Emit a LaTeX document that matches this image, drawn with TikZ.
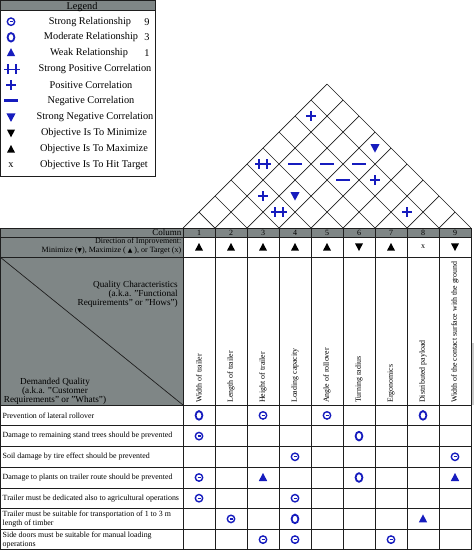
\documentclass[tikz,border=0pt]{standalone}
\usepackage{fontspec}
\setmainfont{Liberation Serif}
\newfontfamily\symfont{DejaVu Sans}
\usetikzlibrary{calc}
\definecolor{hdrgray}{RGB}{127,134,134}
\definecolor{symblue}{RGB}{22,28,190}
\definecolor{gridc}{RGB}{30,30,30}
\definecolor{edgegray}{RGB}{205,205,205}
\tikzset{
  gridline/.style={draw=gridc, line width=0.7pt},
  lgtext/.style={font=\fontsize{10.3}{11}\selectfont, inner sep=0pt},
  rowtext/.style={font=\fontsize{7.9}{9}\selectfont, inner sep=0pt, anchor=west, align=left},
  coltext/.style={font=\fontsize{7.9}{9}\selectfont, inner sep=0pt, anchor=west, rotate=90},
  numtext/.style={font=\fontsize{8}{9}\selectfont, inner sep=0pt},
  qstrong/.pic={\draw[symblue,line width=1.4pt] (0,0) circle[radius=3.7pt];
                \draw[symblue,line width=1.3pt] (-1.5,0)--(1.5,0);},
  qmod/.pic={\draw[symblue,line width=1.8pt] (0,0) ellipse[x radius=3.4pt,y radius=4.3pt];},
  qweak/.pic={\fill[symblue] (0,-4.5)--(4.2,3.5)--(-4.2,3.5)--cycle;},
  cstrongpos/.pic={\draw[symblue,line width=1.6pt] (-8,0)--(8,0) (-4,-5)--(-4,5) (4,-5)--(4,5);},
  cposit/.pic={\draw[symblue,line width=1.6pt] (-5,0)--(5,0) (0,-5)--(0,5);},
  cnegat/.pic={\draw[symblue,line width=2.6pt] (-7,0)--(7,0);},
  cstrongneg/.pic={\fill[symblue] (-4.6,-4)--(4.6,-4)--(0,4.6)--cycle;},
  dmin/.pic={\fill[black] (-4,-3.6)--(4,-3.6)--(0,4)--cycle;},
  dmax/.pic={\fill[black] (0,-4)--(4,3.6)--(-4,3.6)--cycle;}
}
\begin{document}
\begin{tikzpicture}[x=1pt,y=-1pt]
\useasboundingbox (0,0) rectangle (474,550);
\fill[white] (0,0) rectangle (474,550);

% ---------------- Legend ----------------
\fill[hdrgray] (0,0) rectangle (155,10);
\draw[gridline] (0.4,0.4) rectangle (155,176);
\draw[gridline] (0.4,10) -- (155,10);
\node[lgtext, anchor=base] (lgtitle) at (82,9) {Legend};

\pic at (11,21.7) {qstrong};
\pic at (11,37.3) {qmod};
\pic at (11,52.7) {qweak};
\pic at (12,69.3) {cstrongpos};
\pic at (11,85) {cposit};
\pic at (11,100.7) {cnegat};
\pic at (11,117.3) {cstrongneg};
\pic at (11,133.3) {dmin};
\pic at (11,149) {dmax};
\node[lgtext] (lgx) at (11,165) {x};

\node[lgtext] (lg1) at (90,21.7) {Strong Relationship};
\node[lgtext] (lg1n) at (147,21.7) {9};
\node[lgtext] (lg2) at (91,37.3) {Moderate Relationship};
\node[lgtext] (lg2n) at (147,37.3) {3};
\node[lgtext] (lg3) at (89,52.7) {Weak Relationship};
\node[lgtext] (lg3n) at (147,52.7) {1};
\node[lgtext] (lg4) at (95,69.3) {Strong Positive Correlation};
\node[lgtext] (lg5) at (91,85) {Positive Correlation};
\node[lgtext] (lg6) at (91,100.7) {Negative Correlation};
\node[lgtext] (lg7) at (95,117.3) {Strong Negative Correlation};
\node[lgtext] (lg8) at (94,133.3) {Objective Is To Minimize};
\node[lgtext] (lg9) at (94,149) {Objective Is To Maximize};
\node[lgtext] (lg10) at (94,165) {Objective Is To Hit Target};

% ---------------- Header fills ----------------
\fill[hdrgray] (0,228) rectangle (471,237);
\fill[hdrgray] (0,237) rectangle (183,405);
\fill[edgegray] (472,343) rectangle (474,405);

% ---------------- Grid ----------------
\foreach \y in {228,237,257,405,425.7,446.4,467.1,487.9,508.6,529.3,549.6}
  \draw[gridline] (0,\y) -- (471,\y);
\foreach \k in {0,...,9}
  \draw[gridline] ({183+32*\k},228) -- ({183+32*\k},550);
\draw[gridline] (0.4,228) -- (0.4,550);
\draw[gridline] (0,257) -- (183,405);

% roof
\foreach \k in {0,...,9}{
  \pgfmathsetmacro\xk{183+32*\k}
  \draw[gridline] (\xk,228) -- ({(471+\xk)/2},{228-(471-\xk)/2});
  \draw[gridline] (\xk,228) -- ({(183+\xk)/2},{228-(\xk-183)/2});
}

% roof symbols
\pic at (311,116) {cposit};
\pic at (375,148) {cstrongneg};
\pic at (263,164) {cstrongpos};
\pic at (295,164) {cnegat};
\pic at (327,164) {cnegat};
\pic at (359,164) {cnegat};
\pic at (343,180) {cnegat};
\pic at (375,180) {cposit};
\pic at (263,196) {cposit};
\pic at (295,196) {cstrongneg};
\pic at (279,212) {cstrongpos};
\pic at (407,212) {cposit};

% ---------------- Header texts ----------------
\node[font=\fontsize{9}{9}\selectfont, inner sep=0pt, anchor=east] (colhdr) at (181.5,232.8) {Column};
\node[font=\fontsize{8}{9}\selectfont, inner sep=0pt, anchor=east, align=right] (dirhdr) at (181.5,246)
  {Direction of Improvement:\\Minimize ({\symfont\fontsize{6}{9}\selectfont ▼}), Maximize ( {\symfont\fontsize{6}{9}\selectfont ▲} ), or Target (x)};
\node[font=\fontsize{9.2}{9}\selectfont, inner sep=0pt, anchor=east, align=right] (qchdr) at (178,294.5)
  {Quality Characteristics\\(a.k.a. "Functional \\Requirements" or "Hows")};
\node[font=\fontsize{9.2}{9}\selectfont, inner sep=0pt, align=center] (dqhdr) at (55,391.5)
  {Demanded Quality\\(a.k.a. "Customer\\Requirements" or "Whats")};

% column numbers
\foreach \c in {1,...,9}
  \node[numtext] (cn\c) at ({167+32*\c},232.8) {\c};

% direction of improvement
\pic at (199,247) {dmax};
\pic at (231,247) {dmax};
\pic at (263,247) {dmax};
\pic at (295,247) {dmax};
\pic at (327,247) {dmax};
\pic at (359,247) {dmin};
\pic at (391,247) {dmax};
\node[numtext] (dx8) at (423,246.5) {x};
\pic at (455,247) {dmin};

% column labels
\node[coltext] (cl1) at (199,403) {Width of trailer};
\node[coltext] (cl2) at (231,403) {Length of trailer};
\node[coltext] (cl3) at (263,403) {Height of trailer};
\node[coltext] (cl4) at (295,403) {Loading capacity};
\node[coltext] (cl5) at (327,403) {Angle of rollover};
\node[coltext] (cl6) at (359,403) {Turning radius};
\node[coltext] (cl7) at (391,403) {Ergonomics};
\node[coltext] (cl8) at (423,403) {Distributed payload};
\node[coltext] (cl9) at (455,403) {Width of the contact surface with the ground};

% row labels
\node[rowtext] (r1) at (2.5,415.4) {Prevention of lateral rollover};
\node[rowtext] (r2) at (2.5,436.1) {Damage to remaining stand trees should be prevented};
\node[rowtext] (r3) at (2.5,456.8) {Soil damage by tire effect should be prevented};
\node[rowtext] (r4) at (2.5,477.5) {Damage to plants on trailer route should be prevented};
\node[rowtext] (r5) at (2.5,498.2) {Trailer must be dedicated also to agricultural operations};
\node[rowtext] (r6) at (2.5,518.9) {Trailer must be suitable for transportation of 1 to 3 m\\length of timber};
\node[rowtext] (r7) at (2.5,539.6) {Side doors must be suitable for manual loading\\operations};

% relationship matrix
\pic at (199,415.4) {qmod};
\pic at (263,415.4) {qstrong};
\pic at (327,415.4) {qstrong};
\pic at (423,415.4) {qmod};

\pic at (199,436.1) {qstrong};
\pic at (359,436.1) {qmod};

\pic at (295,456.8) {qstrong};
\pic at (455,456.8) {qstrong};

\pic at (199,477.5) {qstrong};
\pic at (263,477.5) {qweak};
\pic at (359,477.5) {qmod};
\pic at (455,477.5) {qweak};

\pic at (199,498.2) {qstrong};
\pic at (295,498.2) {qstrong};

\pic at (231,518.9) {qstrong};
\pic at (295,518.9) {qmod};
\pic at (423,518.9) {qweak};

\pic at (263,539.6) {qstrong};
\pic at (295,539.6) {qstrong};
\pic at (391,539.6) {qstrong};
\end{tikzpicture}
\end{document}
